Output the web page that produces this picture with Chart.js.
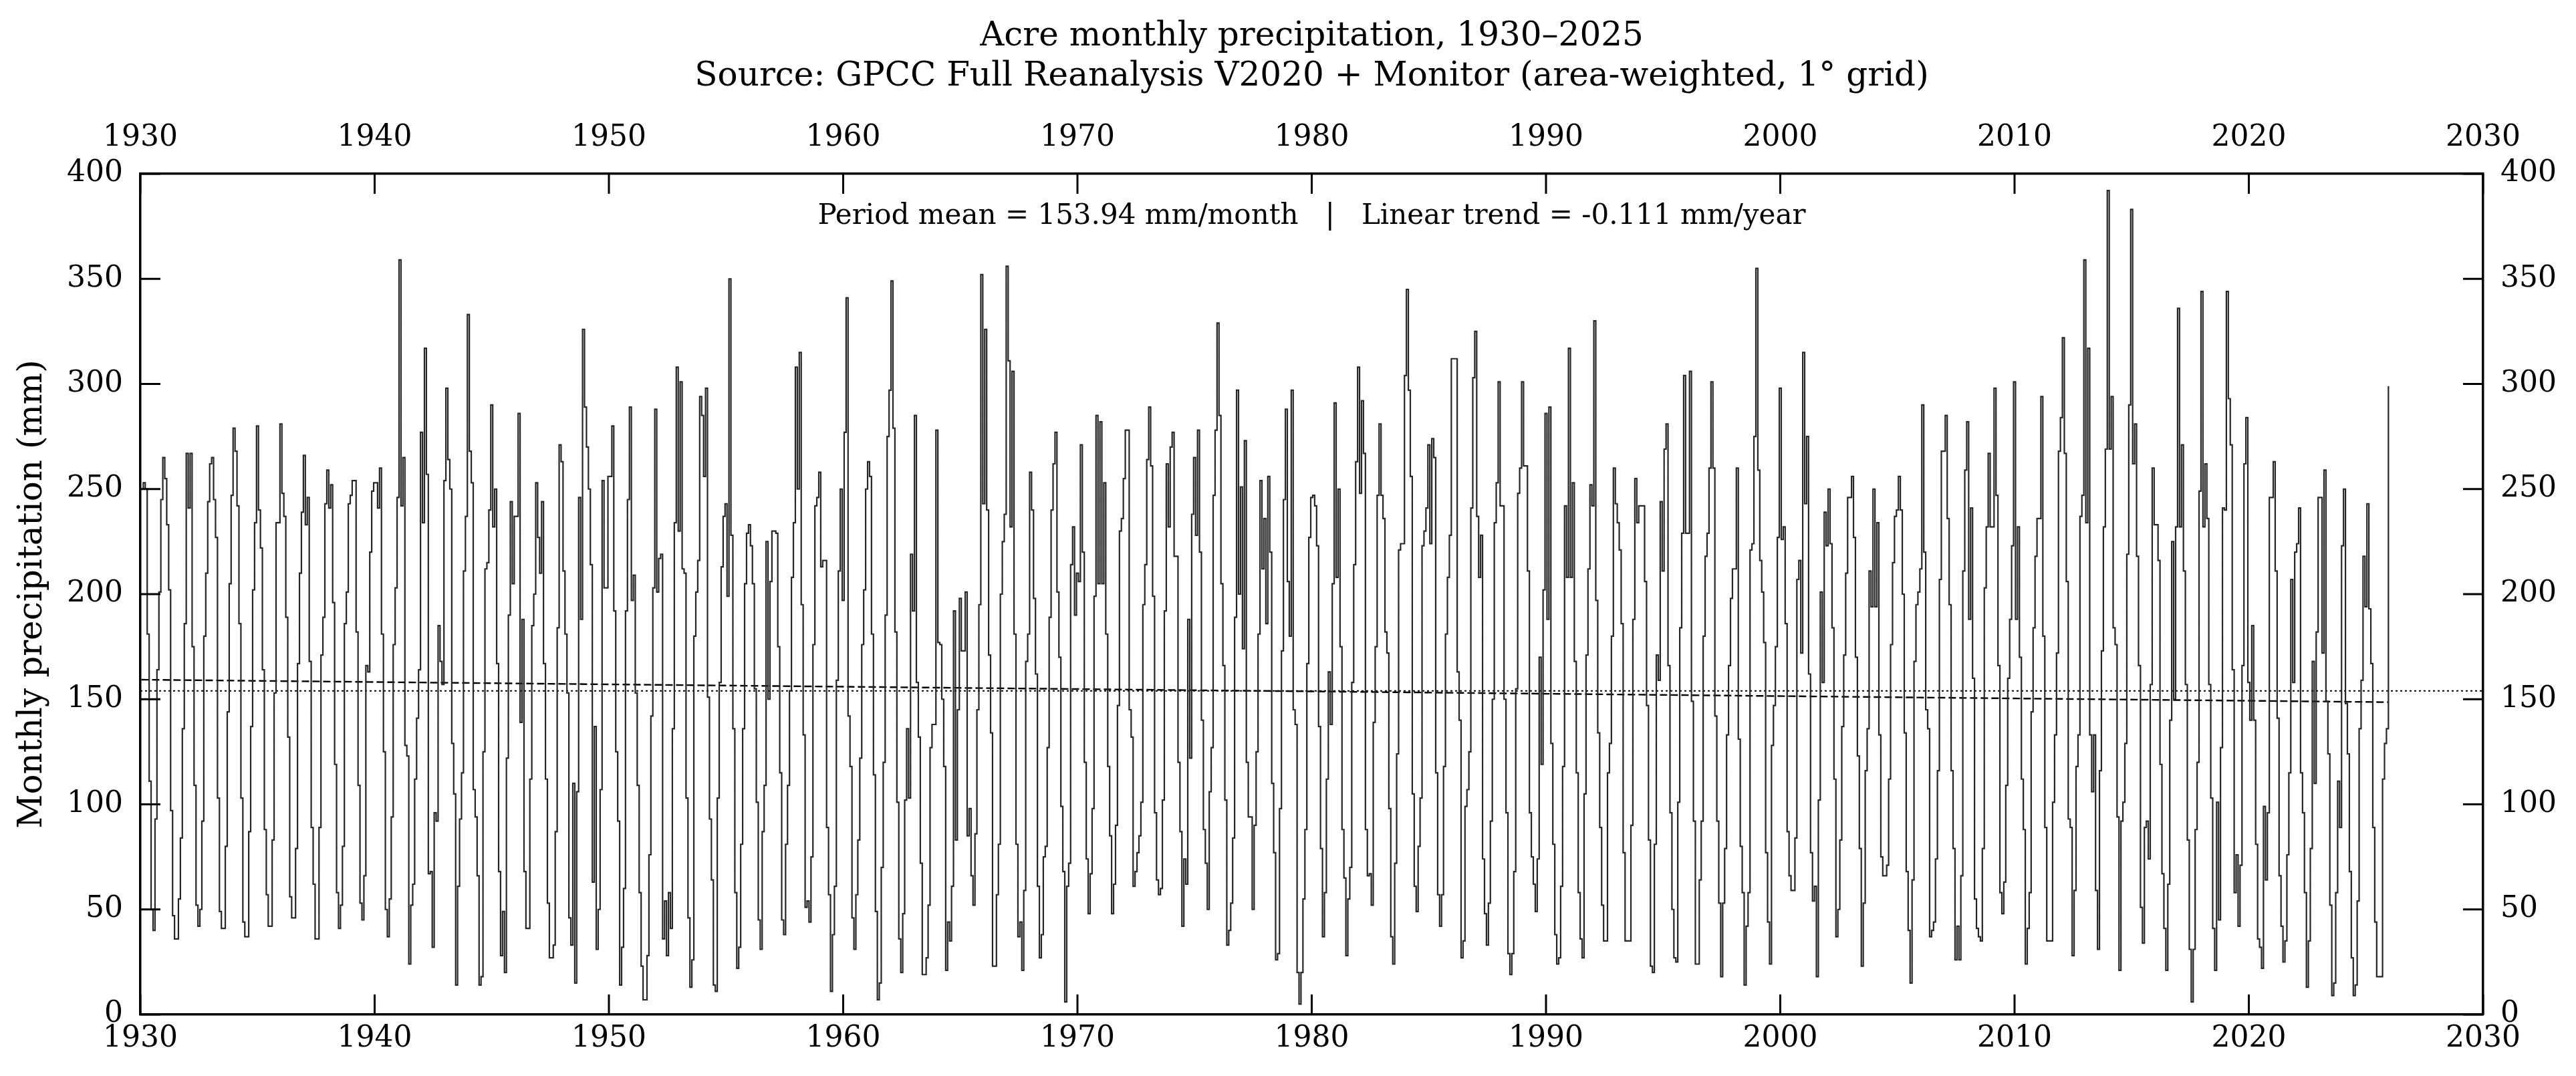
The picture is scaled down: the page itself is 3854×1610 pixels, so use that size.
<!DOCTYPE html>
<html>
<head>
<meta charset="utf-8">
<title>Acre monthly precipitation, 1930–2025</title>
<script src="https://cdn.jsdelivr.net/npm/chart.js"></script>
<style>
  html, body { margin: 0; padding: 0; background: #fff; }
  #chart { display: block; }
</style>
</head>
<body>
<canvas id="chart" width="3854" height="1610"></canvas>
<script>
// monthly precipitation (mm), Jan..Dec, one array per decade
const p1930s = [
  250, 253, 250, 181, 111, 50, 40, 93, 164, 201, 245, 265,
  255, 233, 202, 97, 47, 36, 36, 55, 84, 136, 186, 267,
  241, 267, 175, 109, 52, 42, 50, 92, 180, 210, 244, 262,
  265, 245, 227, 103, 49, 41, 41, 80, 144, 205, 247, 279,
  268, 242, 186, 103, 44, 37, 37, 87, 137, 202, 234, 280,
  240, 222, 164, 88, 57, 42, 42, 83, 153, 234, 234, 281,
  248, 237, 189, 132, 56, 46, 46, 79, 167, 210, 239, 266,
  233, 246, 168, 89, 62, 36, 36, 89, 171, 189, 243, 259,
  241, 252, 196, 119, 58, 41, 52, 80, 186, 201, 243, 247,
  254, 254, 182, 109, 53, 45, 66, 166, 163, 220, 249, 253
];
const p1940s = [
  253, 241, 260, 181, 125, 50, 37, 55, 94, 176, 203, 246,
  359, 242, 265, 128, 123, 24, 52, 62, 112, 141, 164, 277,
  234, 317, 257, 67, 68, 32, 96, 92, 185, 168, 157, 254,
  298, 264, 250, 129, 105, 14, 61, 93, 115, 211, 237, 333,
  268, 253, 107, 94, 66, 14, 18, 125, 212, 215, 240, 290,
  232, 250, 167, 68, 28, 49, 20, 122, 190, 244, 205, 237,
  237, 286, 139, 188, 68, 41, 41, 112, 185, 200, 253, 227,
  210, 244, 167, 112, 53, 27, 27, 33, 87, 184, 271, 263,
  211, 181, 153, 46, 33, 110, 15, 106, 246, 188, 326, 289,
  270, 250, 214, 63, 137, 31, 50, 107, 254, 203, 203, 256
];
const p1950s = [
  256, 280, 192, 125, 92, 14, 32, 60, 192, 245, 289, 197,
  209, 153, 109, 58, 23, 7, 7, 28, 76, 142, 203, 288,
  201, 217, 219, 36, 54, 28, 58, 41, 136, 234, 308, 230,
  301, 212, 210, 103, 46, 13, 26, 180, 201, 216, 294, 285,
  256, 298, 151, 93, 64, 14, 11, 103, 158, 213, 237, 243,
  199, 350, 228, 136, 58, 22, 32, 81, 136, 205, 229, 233,
  223, 205, 155, 101, 45, 31, 87, 109, 225, 150, 206, 230,
  230, 229, 175, 115, 45, 38, 81, 109, 154, 208, 234, 308,
  250, 315, 195, 133, 51, 54, 44, 75, 176, 242, 246, 258,
  213, 216, 216, 89, 57, 11, 38, 61, 159, 211, 250, 197
];
const p1960s = [
  277, 341, 142, 118, 46, 31, 57, 83, 122, 176, 202, 250,
  263, 256, 181, 114, 49, 7, 15, 70, 120, 190, 275, 297,
  349, 279, 182, 101, 36, 20, 48, 102, 136, 103, 219, 192,
  285, 158, 132, 72, 19, 19, 27, 52, 127, 138, 138, 278,
  177, 176, 150, 118, 21, 44, 35, 61, 192, 83, 145, 198,
  173, 173, 201, 85, 98, 66, 52, 86, 145, 195, 352, 243,
  326, 240, 171, 134, 23, 23, 57, 81, 200, 225, 238, 356,
  311, 232, 306, 181, 81, 37, 44, 21, 59, 168, 181, 258,
  240, 198, 162, 61, 27, 38, 75, 80, 127, 189, 240, 262,
  277, 201, 170, 99, 68, 6, 61, 72, 214, 232, 190, 210
];
const p1970s = [
  206, 271, 220, 120, 74, 48, 67, 98, 199, 285, 205, 282,
  205, 253, 181, 118, 85, 48, 62, 90, 147, 230, 236, 255,
  278, 278, 145, 132, 61, 68, 77, 85, 101, 195, 214, 264,
  289, 261, 199, 96, 64, 57, 60, 102, 192, 262, 232, 270,
  277, 218, 218, 120, 87, 42, 74, 62, 188, 122, 238, 265,
  228, 278, 220, 140, 88, 72, 50, 106, 127, 247, 278, 329,
  285, 205, 166, 102, 33, 40, 53, 84, 189, 297, 200, 251,
  174, 273, 120, 94, 94, 50, 90, 125, 181, 254, 212, 236,
  186, 256, 220, 110, 77, 26, 29, 98, 173, 245, 288, 206,
  180, 297, 145, 138, 20, 5, 20, 55, 88, 167, 227, 246
];
const p1980s = [
  247, 242, 223, 137, 79, 37, 58, 112, 163, 138, 205, 291,
  208, 250, 175, 88, 65, 28, 55, 70, 158, 214, 263, 308,
  248, 292, 267, 88, 66, 67, 52, 139, 175, 247, 281, 247,
  236, 182, 172, 98, 37, 24, 72, 124, 221, 224, 224, 304,
  345, 297, 256, 105, 61, 49, 80, 103, 223, 230, 241, 271,
  224, 274, 265, 115, 57, 42, 57, 118, 181, 208, 228, 312,
  312, 312, 163, 140, 27, 35, 99, 107, 125, 241, 303, 325,
  237, 208, 228, 74, 48, 33, 53, 92, 150, 234, 253, 301,
  242, 242, 150, 96, 29, 19, 29, 68, 155, 248, 260, 301,
  261, 261, 211, 96, 75, 62, 49, 74, 170, 119, 202, 286
];
const p1990s = [
  188, 289, 129, 81, 38, 24, 27, 61, 118, 242, 208, 317,
  208, 253, 168, 115, 58, 36, 27, 105, 171, 212, 252, 242,
  330, 197, 134, 89, 52, 35, 35, 115, 129, 180, 260, 243,
  234, 221, 186, 77, 35, 35, 35, 90, 188, 255, 234, 242,
  242, 242, 206, 147, 83, 23, 20, 81, 171, 159, 244, 211,
  269, 281, 166, 96, 50, 27, 25, 101, 184, 229, 304, 229,
  229, 306, 149, 92, 24, 24, 64, 92, 180, 218, 229, 260,
  301, 260, 142, 92, 53, 18, 53, 79, 133, 166, 198, 212,
  212, 260, 131, 80, 58, 14, 42, 58, 221, 224, 275, 355,
  259, 216, 201, 177, 77, 44, 24, 128, 147, 175, 227, 298
];
const p2000s = [
  226, 232, 186, 87, 66, 59, 59, 84, 207, 216, 172, 315,
  243, 275, 162, 77, 54, 61, 18, 102, 201, 158, 239, 223,
  250, 224, 184, 112, 37, 50, 83, 137, 171, 210, 246, 246,
  256, 227, 170, 123, 79, 23, 53, 116, 136, 211, 194, 250,
  194, 234, 133, 75, 66, 66, 71, 112, 176, 215, 237, 240,
  256, 240, 200, 134, 68, 40, 15, 64, 168, 195, 201, 212,
  290, 220, 145, 136, 37, 40, 44, 74, 116, 207, 268, 268,
  285, 236, 195, 116, 79, 26, 42, 26, 66, 211, 259, 282,
  188, 241, 160, 55, 41, 37, 35, 79, 203, 232, 267, 232,
  232, 298, 247, 166, 58, 48, 63, 109, 160, 188, 223, 301
];
const p2010s = [
  188, 232, 170, 112, 88, 24, 41, 58, 144, 184, 218, 236,
  236, 294, 180, 89, 35, 35, 35, 101, 133, 172, 268, 284,
  322, 267, 206, 93, 89, 28, 59, 118, 133, 237, 247, 359,
  234, 317, 133, 106, 133, 59, 31, 116, 173, 232, 269, 392,
  269, 294, 184, 176, 94, 21, 92, 101, 129, 219, 290, 383,
  262, 281, 218, 166, 51, 34, 89, 92, 74, 157, 260, 233,
  233, 216, 119, 67, 41, 21, 62, 140, 225, 150, 232, 336,
  232, 271, 211, 157, 83, 31, 6, 31, 88, 120, 249, 344,
  232, 262, 236, 157, 103, 41, 21, 101, 45, 127, 241, 240,
  344, 293, 271, 164, 58, 76, 42, 71, 166, 262, 284, 158
];
const p2020s = [
  140, 185, 140, 81, 36, 32, 22, 99, 64, 96, 246, 246,
  263, 211, 141, 66, 42, 25, 35, 76, 115, 207, 158, 220,
  224, 241, 115, 96, 58, 13, 35, 79, 168, 110, 182, 246,
  246, 172, 259, 149, 124, 52, 9, 15, 58, 111, 89, 223,
  250, 148, 124, 68, 27, 9, 14, 54, 136, 159, 218, 194,
  243, 193, 167, 89, 44, 18, 18, 18, 112, 129, 136, 299
];

const firstYear = 1930;
const periodMean = 153.94;          // mm/month
const trendEnds = [159.3, 148.6];   // fitted line at first and last month
const xTickYears = [1930, 1940, 1950, 1960, 1970, 1980, 1990, 2000, 2010, 2020, 2030];
const yTickValues = [0, 50, 100, 150, 200, 250, 300, 350, 400];

const titleLines = [
  'Acre monthly precipitation, 1930–2025',
  'Source: GPCC Full Reanalysis V2020 + Monitor (area-weighted, 1° grid)'
];
const statsText = 'Period mean = 153.94 mm/month   |   Linear trend = -0.111 mm/year';
const yLabel = 'Monthly precipitation (mm)';

// month points at mid-month positions
const monthly = [].concat(p1930s, p1940s, p1950s, p1960s, p1970s, p1980s, p1990s, p2000s, p2010s, p2020s);
const points = monthly.map((v, i) => ({ x: firstYear + (i + 0.5) / 12, y: v }));
const lastX = points[points.length - 1].x;

const FONT = '"DejaVu Serif"';
Chart.defaults.font.family = FONT;
Chart.defaults.color = '#000';

// ticks pointing into the plot on all four sides
const innerTicks = {
  id: 'innerTicks',
  afterDatasetsDraw(chart) {
    const { ctx, chartArea: a, scales } = chart;
    const len = 30;
    ctx.save();
    ctx.strokeStyle = '#000';
    ctx.lineWidth = 3;
    ctx.beginPath();
    scales.x.ticks.forEach(t => {
      const px = scales.x.getPixelForValue(t.value);
      ctx.moveTo(px, a.bottom); ctx.lineTo(px, a.bottom - len);
    });
    scales.xTop.ticks.forEach(t => {
      const px = scales.xTop.getPixelForValue(t.value);
      ctx.moveTo(px, a.top); ctx.lineTo(px, a.top + len);
    });
    scales.y.ticks.forEach(t => {
      const py = scales.y.getPixelForValue(t.value);
      ctx.moveTo(a.left, py); ctx.lineTo(a.left + len, py);
    });
    scales.yRight.ticks.forEach(t => {
      const py = scales.yRight.getPixelForValue(t.value);
      ctx.moveTo(a.right, py); ctx.lineTo(a.right - len, py);
    });
    ctx.stroke();
    ctx.restore();
  }
};

// two-line title and the stats line inside the plot
const headerText = {
  id: 'headerText',
  afterDraw(chart) {
    const { ctx, chartArea: a } = chart;
    const cx = (a.left + a.right) / 2;
    ctx.save();
    ctx.fillStyle = '#000';
    ctx.textAlign = 'center';
    ctx.textBaseline = 'alphabetic';
    ctx.font = '50px ' + FONT;
    ctx.fillText(titleLines[0], cx, 68);
    ctx.fillText(titleLines[1], cx, 128);
    ctx.font = '42px ' + FONT;
    ctx.fillText(statsText, cx, a.top + 75);
    ctx.restore();
  }
};

const setXTicks = s => { s.ticks = xTickYears.map(v => ({ value: v })); };
const setYTicks = s => { s.ticks = yTickValues.map(v => ({ value: v })); };
const axisBorder = { display: true, color: '#000', width: 3.5 };
const noGrid = { display: true, drawOnChartArea: false, drawTicks: false };
const tickFont = { family: FONT, size: 44 };

new Chart(document.getElementById('chart'), {
  type: 'line',
  data: {
    datasets: [
      {
        label: 'Monthly precipitation',
        data: points,
        stepped: true,
        borderColor: '#262626',
        borderWidth: 2.2,
        pointRadius: 0,
        fill: false
      },
      {
        label: 'Period mean',
        data: [{ x: xTickYears[0], y: periodMean }, { x: xTickYears[xTickYears.length - 1], y: periodMean }],
        borderColor: '#000',
        borderWidth: 2,
        borderDash: [3, 4],
        pointRadius: 0,
        fill: false
      },
      {
        label: 'Linear trend',
        data: [{ x: points[0].x, y: trendEnds[0] }, { x: lastX, y: trendEnds[1] }],
        borderColor: '#000',
        borderWidth: 2.4,
        borderDash: [11, 5],
        pointRadius: 0,
        fill: false
      }
    ]
  },
  options: {
    responsive: false,
    animation: false,
    devicePixelRatio: 1,
    layout: { padding: 0 },
    plugins: {
      legend: { display: false },
      tooltip: { enabled: false },
      title: { display: false }
    },
    scales: {
      x: {
        type: 'linear', position: 'bottom', min: 1930, max: 2030,
        afterBuildTicks: setXTicks,
        ticks: { font: tickFont, color: '#000', padding: 10, maxRotation: 0, autoSkip: false, callback: v => String(v) },
        grid: noGrid, border: axisBorder,
        afterFit: s => { s.height = 92; }
      },
      xTop: {
        type: 'linear', position: 'top', min: 1930, max: 2030,
        afterBuildTicks: setXTicks,
        ticks: { font: tickFont, color: '#000', padding: 27, maxRotation: 0, autoSkip: false, callback: v => String(v) },
        grid: noGrid, border: axisBorder,
        afterFit: s => { s.height = 260; }
      },
      y: {
        type: 'linear', position: 'left', min: 0, max: 400,
        afterBuildTicks: setYTicks,
        ticks: { font: tickFont, color: '#000', padding: 26, callback: v => String(v) },
        grid: noGrid, border: axisBorder,
        title: { display: true, text: yLabel, color: '#000', font: { family: FONT, size: 50 }, padding: { top: 19, bottom: 0 } },
        afterFit: s => { s.width = 210; }
      },
      yRight: {
        type: 'linear', position: 'right', min: 0, max: 400,
        afterBuildTicks: setYTicks,
        ticks: { font: tickFont, color: '#000', padding: 26, callback: v => String(v) },
        grid: noGrid, border: axisBorder,
        afterFit: s => { s.width = 139; }
      }
    }
  },
  plugins: [innerTicks, headerText]
});
</script>
</body>
</html>
